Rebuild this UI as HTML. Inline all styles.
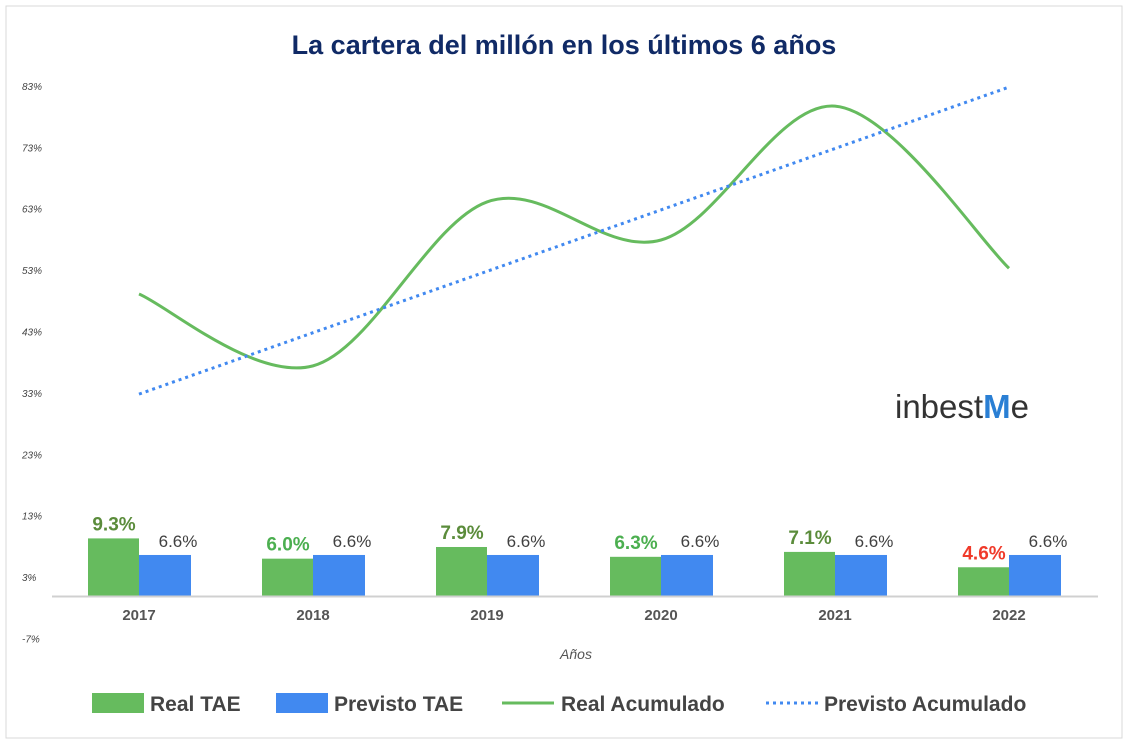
<!DOCTYPE html>
<html><head><meta charset="utf-8"><style>
body{margin:0;background:#fff;}
svg{display:block;font-family:"Liberation Sans",sans-serif;}
</style></head><body>
<svg id="c" width="1128" height="744">
<rect x="6" y="6" width="1116" height="732" fill="#fff" stroke="#d9d9d9"/>
<text x="564" y="54" text-anchor="middle" font-size="27" font-weight="bold" fill="#102a66">La cartera del millón en los últimos 6 años</text>
<text x="576" y="659" text-anchor="middle" font-size="14" font-style="italic" fill="#555">Años</text>
<g>
<text x="895" y="418" font-size="33" fill="#333">inbest<tspan fill="#2a7fd4" font-weight="bold">M</tspan>e</text>
</g>
<g id="legend">
<g><rect x="92" y="693" width="52" height="20" fill="#66bb5e"/><text x="150" y="711" font-size="21" font-weight="bold" fill="#444">Real TAE</text></g>
<g><rect x="276" y="693" width="52" height="20" fill="#4189f0"/><text x="334" y="711" font-size="21" font-weight="bold" fill="#444">Previsto TAE</text></g>
<g><line x1="502" y1="703" x2="554" y2="703" stroke="#66bb5e" stroke-width="3"/><text x="561" y="711" font-size="21" font-weight="bold" fill="#444">Real Acumulado</text></g>
<g><line x1="766" y1="703" x2="818" y2="703" stroke="#4189f0" stroke-width="3" stroke-dasharray="3,4"/><text x="824" y="711" font-size="21" font-weight="bold" fill="#444">Previsto Acumulado</text></g>
</g>
</svg>
<script>
const categories=["2017","2018","2019","2020","2021","2022"];
const realTAE=[9.3,6.0,7.9,6.3,7.1,4.6];
const previstoTAE=[6.6,6.6,6.6,6.6,6.6,6.6];
const realAcum=[49.1,37.4,64.1,57.9,79.7,53.3];
const previstoAcum=[32.8,42.8,52.8,62.8,72.8,82.8];
const yTicks=[-7,3,13,23,33,43,53,63,73,83];
const realLabelColors=["#5b8c3b","#4caf50","#5b8c3b","#4caf50","#5b8c3b","#f03a2a"];
const svg=document.getElementById('c');const NS="http://www.w3.org/2000/svg";
const y=v=>595.5-v*6.14;const x=i=>139+i*174;
function el(t,a,p){const e=document.createElementNS(NS,t);for(const k in a)e.setAttribute(k,a[k]);(p||svg).appendChild(e);return e;}
yTicks.forEach(t=>{const e=el('text',{x:22,y:y(t)+4,'font-size':10,'font-style':'italic',fill:'#444'});e.textContent=t+'%';

});
const base=el('line',{x1:52,x2:1098,y1:596.5,y2:596.5,stroke:'#d0d0d0','stroke-width':2});


categories.forEach((c,i)=>{
 const cx=x(i);
 const g=el('rect',{x:cx-51,y:y(realTAE[i]),width:51,height:y(0)-y(realTAE[i]),fill:'#66bb5e'});
 
 
 const b=el('rect',{x:cx,y:y(previstoTAE[i]),width:52,height:y(0)-y(previstoTAE[i]),fill:'#4189f0'});
 
 
 const l1=el('text',{x:cx-25,y:y(realTAE[i])-8,'text-anchor':'middle','font-size':19,'font-weight':'bold',fill:realLabelColors[i]});l1.textContent=realTAE[i].toFixed(1)+'%';
 
 
 const l2=el('text',{x:cx+39,y:y(previstoTAE[i])-8,'text-anchor':'middle','font-size':17,fill:'#404040'});l2.textContent=previstoTAE[i].toFixed(1)+'%';
 
 
 const t=el('text',{x:cx,y:620,'text-anchor':'middle','font-size':15,'font-weight':'bold',fill:'#555'});t.textContent=c;
 
 
});
function smooth(vals){const p=vals.map((v,i)=>[x(i),y(v)]);let d=`M${p[0][0]},${p[0][1]}`;
for(let i=0;i<p.length-1;i++){const p0=p[i-1]||p[i],p1=p[i],p2=p[i+1],p3=p[i+2]||p2;
d+=` C${p1[0]+(p2[0]-p0[0])/6},${p1[1]+(p2[1]-p0[1])/6} ${p2[0]-(p3[0]-p1[0])/6},${p2[1]-(p3[1]-p1[1])/6} ${p2[0]},${p2[1]}`;}return d;}
const lr=el('path',{d:smooth(realAcum),fill:'none',stroke:'#66bb5e','stroke-width':3});


const lp=el('path',{d:previstoAcum.map((v,i)=>(i?'L':'M')+x(i)+','+y(v)).join(' '),fill:'none',stroke:'#4189f0','stroke-width':3,'stroke-dasharray':'3,4'});


</script>
</body></html>
